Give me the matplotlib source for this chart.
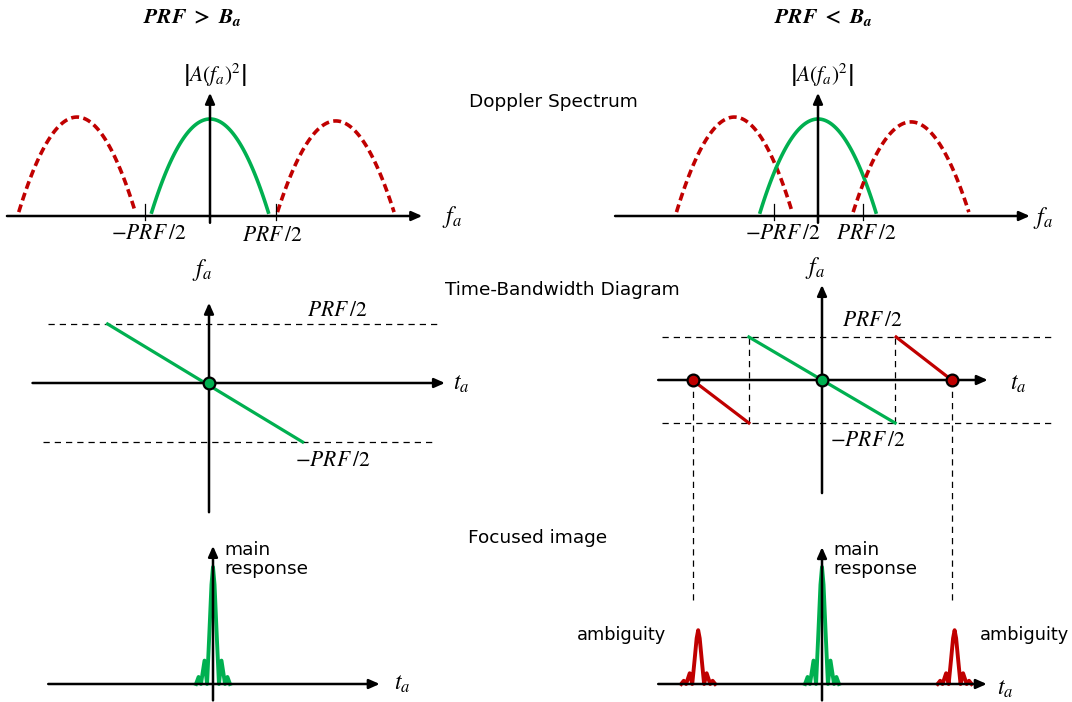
import matplotlib.pyplot as plt
import numpy as np

plt.rcParams['mathtext.fontset'] = 'stix'
plt.rcParams['font.family'] = ['DejaVu Sans']

# ---------------- data ----------------
# Doppler spectrum: f in units of PRF/2, power normalised to the main lobe
lobe_c_over = [-2.03, 0.0, 1.92]       # PRF > Ba : replica centres
lobe_h_over = [1.02, 1.0, 0.98]
lobe_hw_over = 0.89                    # half band (Ba/2)
lobe_c_under = [-1.88, 0.0, 2.09]      # PRF < Ba
lobe_h_under = [1.02, 1.0, 0.97]
lobe_hw_under = 1.30
lobe_floor = 0.04
spec_ticks = [-1.0, 1.0]

# time-bandwidth diagram: t_a (common unit), f_a in PRF/2
chirp_t_over = [-1.04, 0.96]
chirp_f_over = [1.0, -1.0]
chirp_t_under = [-0.75, 0.75]
chirp_f_under = [1.0, -1.0]
alias_t_right = [0.76, 1.33]
alias_f_right = [1.0, 0.0]
alias_t_left = [-1.33, -0.75]
alias_f_left = [0.0, -1.0]
zero_t_under = [-1.32, 1.33]          # aliased zero-Doppler crossings

# focused image: sinc-like response, profile in units of its half extent
pulse_u = [-1.0, -0.85, -0.71, -0.5, -0.35, -0.21, -0.09, 0.0,
           0.09, 0.21, 0.35, 0.5, 0.71, 0.85, 1.0]
pulse_h = [0.0, 0.06, 0.0, 0.2, 0.0, 0.45, 0.85, 1.0,
           0.85, 0.45, 0.0, 0.2, 0.0, 0.06, 0.0]
peak_t_over = [0.0]
peak_a_over = [1.0]
peak_t_under = [-1.27, 0.0, 1.36]
peak_a_under = [0.46, 1.0, 0.46]

GREEN = '#00B050'
RED = '#C00000'

W, H = 1072, 702
fig = plt.figure(figsize=(W / 100, H / 100), dpi=100)


# 每个子图: 整幅画布的透明坐标轴, 原点(ox, oy)像素, 比例 sx, sy 像素/单位
def panel(ox, oy, sx, sy):
    ax = fig.add_axes([0, 0, 1, 1])
    ax.set_xlim(-ox / sx, (W - ox) / sx)
    ax.set_ylim(-(H - oy) / sy, oy / sy)
    ax.axis('off')
    ax.patch.set_alpha(0)
    return ax


def arrow(ax, x0, y0, x1, y1):
    ax.annotate('', xy=(x1, y1), xytext=(x0, y0), zorder=4,
                arrowprops=dict(arrowstyle='-|>,head_length=0.45,head_width=0.2',
                                color='k', lw=1.8, mutation_scale=14,
                                shrinkA=0, shrinkB=0))


def mtext(ax, x, y, s, size=15.5):
    ax.text(x, y, s, ha='center', va='center', fontsize=size)


def spectrum(ax, centres, heights, hw, xmin, xmax, lab):
    for c, h in zip(centres, heights):
        x = np.linspace(-hw, hw, 100)
        y = lobe_floor + (h - lobe_floor) * (1 - (x / hw) ** 2)
        if c == 0:
            ax.plot(c + x, y, color=GREEN, lw=2.6, zorder=2)
        else:
            ax.plot(c + x, y, color=RED, lw=2.6, ls=(0, (2.2, 1.2)), zorder=2)
    arrow(ax, xmin, 0, xmax, 0)
    arrow(ax, 0, -0.07, 0, 1.27)
    for t in spec_ticks:
        ax.plot([t, t], [-0.04, 0.12], color='k', lw=0.9)
    mtext(ax, lab[0][0], lab[0][1], r'$\left|A(f_a)^2\right|$')
    mtext(ax, lab[1][0], lab[1][1], r'$-PRF\:/2$')
    mtext(ax, lab[2][0], lab[2][1], r'$PRF\:/2$')
    mtext(ax, lab[3][0], lab[3][1], r'$f_a$', 17)


def focused(ax, ts, amps, pw):
    for t0, a in zip(ts, amps):
        col = GREEN if t0 == 0 else RED
        ax.plot(t0 + np.array(pulse_u) * pw, a * np.array(pulse_h),
                color=col, lw=2.8, solid_joinstyle='round', zorder=2)


# ---------------- 多普勒谱 ----------------
ax1 = panel(210, 216, 65.5, 97)
spectrum(ax1, lobe_c_over, lobe_h_over, lobe_hw_over, -3.10, 3.24,
         [(0.08, 1.45), (-0.93, -0.175), (0.96, -0.2), (3.69, -0.01)])
ax2 = panel(818, 216, 44.5, 97)
spectrum(ax2, lobe_c_under, lobe_h_under, lobe_hw_under, -4.56, 4.76,
         [(0.09, 1.45), (-0.79, -0.175), (1.10, -0.175), (5.06, -0.02)])

# ---------------- 时间-带宽图 ----------------
ax3 = panel(209, 383, 97.5, 59)
ax3.plot([-1.65, 2.37], [1, 1], color='k', lw=0.9, ls=(0, (5, 4)))
ax3.plot([-1.70, 2.30], [-1, -1], color='k', lw=0.9, ls=(0, (5, 4)))
ax3.plot(chirp_t_over, chirp_f_over, color=GREEN, lw=2.3, zorder=2)
arrow(ax3, -1.81, 0, 2.42, 0)
arrow(ax3, 0, -2.19, 0, 1.36)
ax3.plot([0], [0], 'o', ms=8.5, mfc=GREEN, mec='k', mew=1.6, zorder=6)
mtext(ax3, -0.07, 1.92, r'$f_a$', 17)
mtext(ax3, 1.32, 1.24, r'$PRF\:/2$')
mtext(ax3, 1.27, -1.31, r'$-PRF\:/2$')
mtext(ax3, 2.59, 0.0, r'$t_a$', 17)

ax4 = panel(822, 380, 97.5, 43)
ax4.plot([-1.64, 2.38], [1, 1], color='k', lw=0.9, ls=(0, (5, 4)))
ax4.plot([-1.64, 2.38], [-1, -1], color='k', lw=0.9, ls=(0, (5, 4)))
for t in [chirp_t_under[0], chirp_t_under[1]]:
    ax4.plot([t, t], [-1, 1], color='k', lw=0.9, ls=(0, (5, 4)))
for t in zero_t_under:
    ax4.plot([t, t], [0, -5.19], color='k', lw=0.9, ls=(0, (5, 4)))
ax4.plot(chirp_t_under, chirp_f_under, color=GREEN, lw=2.3, zorder=2)
ax4.plot(alias_t_right, alias_f_right, color=RED, lw=2.3, zorder=2)
ax4.plot(alias_t_left, alias_f_left, color=RED, lw=2.3, zorder=2)
arrow(ax4, -1.68, 0, 1.70, 0)
arrow(ax4, 0, -2.63, 0, 2.21)
ax4.plot(zero_t_under, [0, 0], 'o', ms=8.5, mfc=RED, mec='k', mew=1.6, zorder=6)
ax4.plot([0], [0], 'o', ms=8.5, mfc=GREEN, mec='k', mew=1.6, zorder=6)
mtext(ax4, -0.07, 2.60, r'$f_a$', 17)
mtext(ax4, 0.52, 1.40, r'$PRF\:/2$')
mtext(ax4, 0.47, -1.40, r'$-PRF\:/2$')
mtext(ax4, 2.01, -0.07, r'$t_a$', 17)

# ---------------- 聚焦图像 ----------------
ax5 = panel(213, 684, 97.5, 117)
focused(ax5, peak_t_over, peak_a_over, 0.174)
arrow(ax5, -1.69, 0, 1.71, 0)
arrow(ax5, 0, -0.14, 0, 1.18)
ax5.text(0.12, 0.94, 'main\nresponse', fontsize=13.3, va='baseline',
         ha='left', linespacing=1.05)
mtext(ax5, 1.94, 0.01, r'$t_a$', 17)

ax6 = panel(822, 684, 97.5, 117)
focused(ax6, peak_t_under, peak_a_under, 0.174)
arrow(ax6, -1.68, 0, 1.69, 0)
arrow(ax6, 0, -0.14, 0, 1.17)
ax6.text(0.12, 0.94, 'main\nresponse', fontsize=13.3, va='baseline',
         ha='left', linespacing=1.05)
ax6.text(-2.51, 0.376, 'ambiguity', fontsize=12.8, va='baseline', ha='left')
ax6.text(1.62, 0.376, 'ambiguity', fontsize=12.8, va='baseline', ha='left')
mtext(ax6, 1.88, -0.03, r'$t_a$', 17)

# ---------------- 标题与行标签 ----------------
fig.text(192 / W, 1 - 18 / H, r'$\mathbfit{PRF}\ \mathbf{>}\ \mathbfit{B_a}$',
         fontsize=15.5, ha='center', va='center')
fig.text(823 / W, 1 - 18 / H, r'$\mathbfit{PRF}\ \mathbf{<}\ \mathbfit{B_a}$',
         fontsize=15.5, ha='center', va='center')
fig.text(469 / W, 1 - 107 / H, 'Doppler Spectrum', fontsize=13.3, va='baseline')
fig.text(445 / W, 1 - 295 / H, 'Time-Bandwidth Diagram', fontsize=13.3,
         va='baseline')
fig.text(468 / W, 1 - 543 / H, 'Focused image', fontsize=13.3, va='baseline')

fig.savefig('out.png', dpi=100)
